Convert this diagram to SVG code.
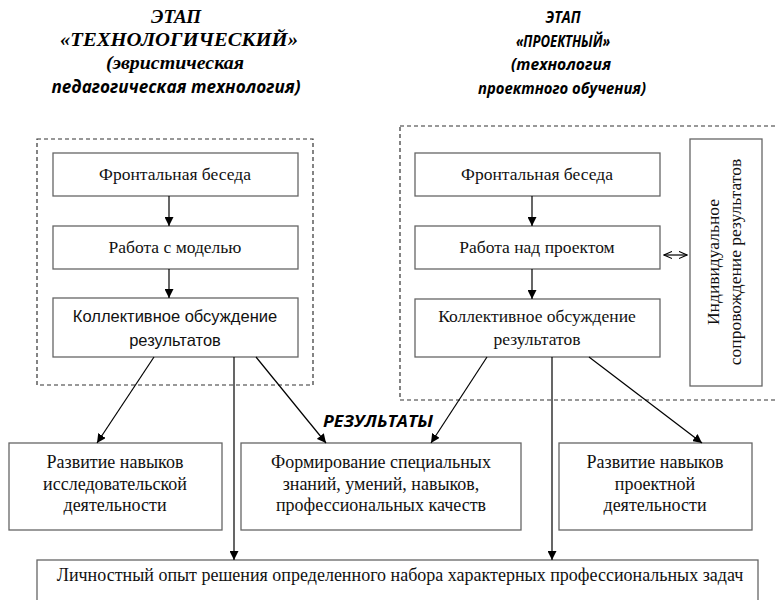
<svg xmlns="http://www.w3.org/2000/svg" width="775" height="600" viewBox="0 0 775 600">
<defs>
<marker id="ah" viewBox="0 0 10 10" refX="10" refY="5" markerWidth="9" markerHeight="9" markerUnits="userSpaceOnUse" orient="auto">
<path d="M0,0 L10,5 L0,10 z" fill="#000"/>
</marker>
<marker id="oa" viewBox="0 0 10 10" refX="9" refY="5" markerWidth="9" markerHeight="9" markerUnits="userSpaceOnUse" orient="auto-start-reverse">
<path d="M0,1 L9,5 L0,9" fill="none" stroke="#000" stroke-width="1.2"/>
</marker>
<style>
.box{fill:#fff;stroke:#666;stroke-width:1.3}
.dash{fill:none;stroke:#333;stroke-width:1.2;stroke-dasharray:4 3}
.t{font-family:"Liberation Serif","Times New Roman",serif;font-size:17.5px;fill:#111;text-anchor:middle}
.s{font-family:"Liberation Sans",Arial,sans-serif;font-size:16.5px;fill:#111;text-anchor:middle}
.hs{font-family:"Liberation Serif",serif;font-weight:bold;font-style:italic;font-size:19px;fill:#000;text-anchor:middle}
.hn{font-family:"Open Sans","Liberation Sans",sans-serif;font-weight:bold;font-style:italic;font-size:18px;fill:#000;text-anchor:middle}
.hr{font-size:16.5px}
.c{stroke:#000;stroke-width:1.2;fill:none}
</style>
</defs>
<rect width="775" height="600" fill="#fff"/>

<g id="header-left">
<text class="hs" x="176" y="23" textLength="50" lengthAdjust="spacingAndGlyphs">ЭТАП</text>
<text class="hs" x="179" y="46" textLength="238" lengthAdjust="spacingAndGlyphs">«ТЕХНОЛОГИЧЕСКИЙ»</text>
<text class="hs" x="175" y="69" textLength="138" lengthAdjust="spacingAndGlyphs">(эвристическая</text>
<text class="hn" x="176" y="93" textLength="249" lengthAdjust="spacingAndGlyphs">педагогическая технология)</text>
</g>
<g id="header-right">
<text class="hn hr" x="563" y="23" textLength="35" lengthAdjust="spacingAndGlyphs">ЭТАП</text>
<text class="hn hr" x="563" y="47" textLength="94" lengthAdjust="spacingAndGlyphs">«ПРОЕКТНЫЙ»</text>
<text class="hn hr" x="561" y="70" textLength="100" lengthAdjust="spacingAndGlyphs">(технология</text>
<text class="hn hr" x="562" y="94" textLength="168" lengthAdjust="spacingAndGlyphs">проектного обучения)</text>
</g>

<g id="group-left"><rect class="dash" x="37" y="139" width="276" height="246"/></g>
<g id="group-right"><rect class="dash" x="400" y="126" width="390" height="274"/></g>

<g id="l1"><rect class="box" x="53" y="153" width="245" height="43"/><text class="t" x="175" y="180">Фронтальная беседа</text></g>
<g id="l2"><rect class="box" x="53" y="226" width="245" height="43"/><text class="t" x="175" y="253">Работа с моделью</text></g>
<g id="l3"><rect class="box" x="53" y="298" width="245" height="59"/><text class="s" x="175" y="322">Коллективное обсуждение</text><text class="s" x="175" y="346">результатов</text></g>

<g id="r1"><rect class="box" x="415" y="153" width="245" height="43"/><text class="t" x="537" y="180">Фронтальная беседа</text></g>
<g id="r2"><rect class="box" x="415" y="226" width="245" height="43"/><text class="t" x="537" y="253">Работа над проектом</text></g>
<g id="r3"><rect class="box" x="415" y="299" width="245" height="58"/><text class="t" x="537" y="322">Коллективное обсуждение</text><text class="t" x="537" y="345">результатов</text></g>
<g id="ind"><rect class="box" x="690" y="139" width="72" height="247"/>
<text class="t" transform="translate(719,262) rotate(-90)">Индивидуальное</text>
<text class="t" transform="translate(741,262) rotate(-90)">сопровождение результатов</text></g>

<g id="res-label"><text x="378" y="427" font-family="Open Sans, Liberation Sans, sans-serif" font-weight="bold" font-style="italic" font-size="16" text-anchor="middle" textLength="110" lengthAdjust="spacingAndGlyphs">РЕЗУЛЬТАТЫ</text></g>

<g id="b1"><rect class="box" x="9" y="443" width="213" height="87"/><text class="t" x="115" y="468" style="font-size:18px">Развитие навыков</text><text class="t" x="115" y="490" style="font-size:18px">исследовательской</text><text class="t" x="115" y="511" style="font-size:18px">деятельности</text></g>
<g id="b2"><rect class="box" x="241" y="443" width="280" height="87"/><text class="t" x="381" y="468" style="font-size:18px">Формирование специальных</text><text class="t" x="381" y="490" style="font-size:18px">знаний, умений, навыков,</text><text class="t" x="381" y="511" style="font-size:18px">профессиональных качеств</text></g>
<g id="b3"><rect class="box" x="559" y="443" width="193" height="87"/><text class="t" x="655" y="468" style="font-size:18px">Развитие навыков</text><text class="t" x="655" y="490" style="font-size:18px">проектной</text><text class="t" x="655" y="511" style="font-size:18px">деятельности</text></g>
<g id="fin"><rect class="box" x="37" y="560" width="721" height="60"/><text class="t" x="400" y="581" style="font-size:18px">Личностный опыт решения определенного набора характерных профессиональных задач</text></g>

<g id="connectors">
<line class="c" x1="169" y1="196" x2="169" y2="226" marker-end="url(#ah)"/>
<line class="c" x1="169" y1="269" x2="169" y2="298" marker-end="url(#ah)"/>
<line class="c" x1="532" y1="196" x2="532" y2="226" marker-end="url(#ah)"/>
<line class="c" x1="532" y1="269" x2="532" y2="299" marker-end="url(#ah)"/>
<line class="c" x1="664" y1="255" x2="687" y2="255" marker-start="url(#oa)" marker-end="url(#oa)"/>
<line class="c" x1="154" y1="357" x2="97" y2="443" marker-end="url(#ah)"/>
<line class="c" x1="256" y1="357" x2="326" y2="443" marker-end="url(#ah)"/>
<line class="c" x1="234" y1="357" x2="234" y2="560" marker-end="url(#ah)"/>
<line class="c" x1="487" y1="357" x2="431" y2="443" marker-end="url(#ah)"/>
<line class="c" x1="589" y1="357" x2="702" y2="443" marker-end="url(#ah)"/>
<line class="c" x1="552" y1="357" x2="552" y2="560" marker-end="url(#ah)"/>
</g>
</svg>
